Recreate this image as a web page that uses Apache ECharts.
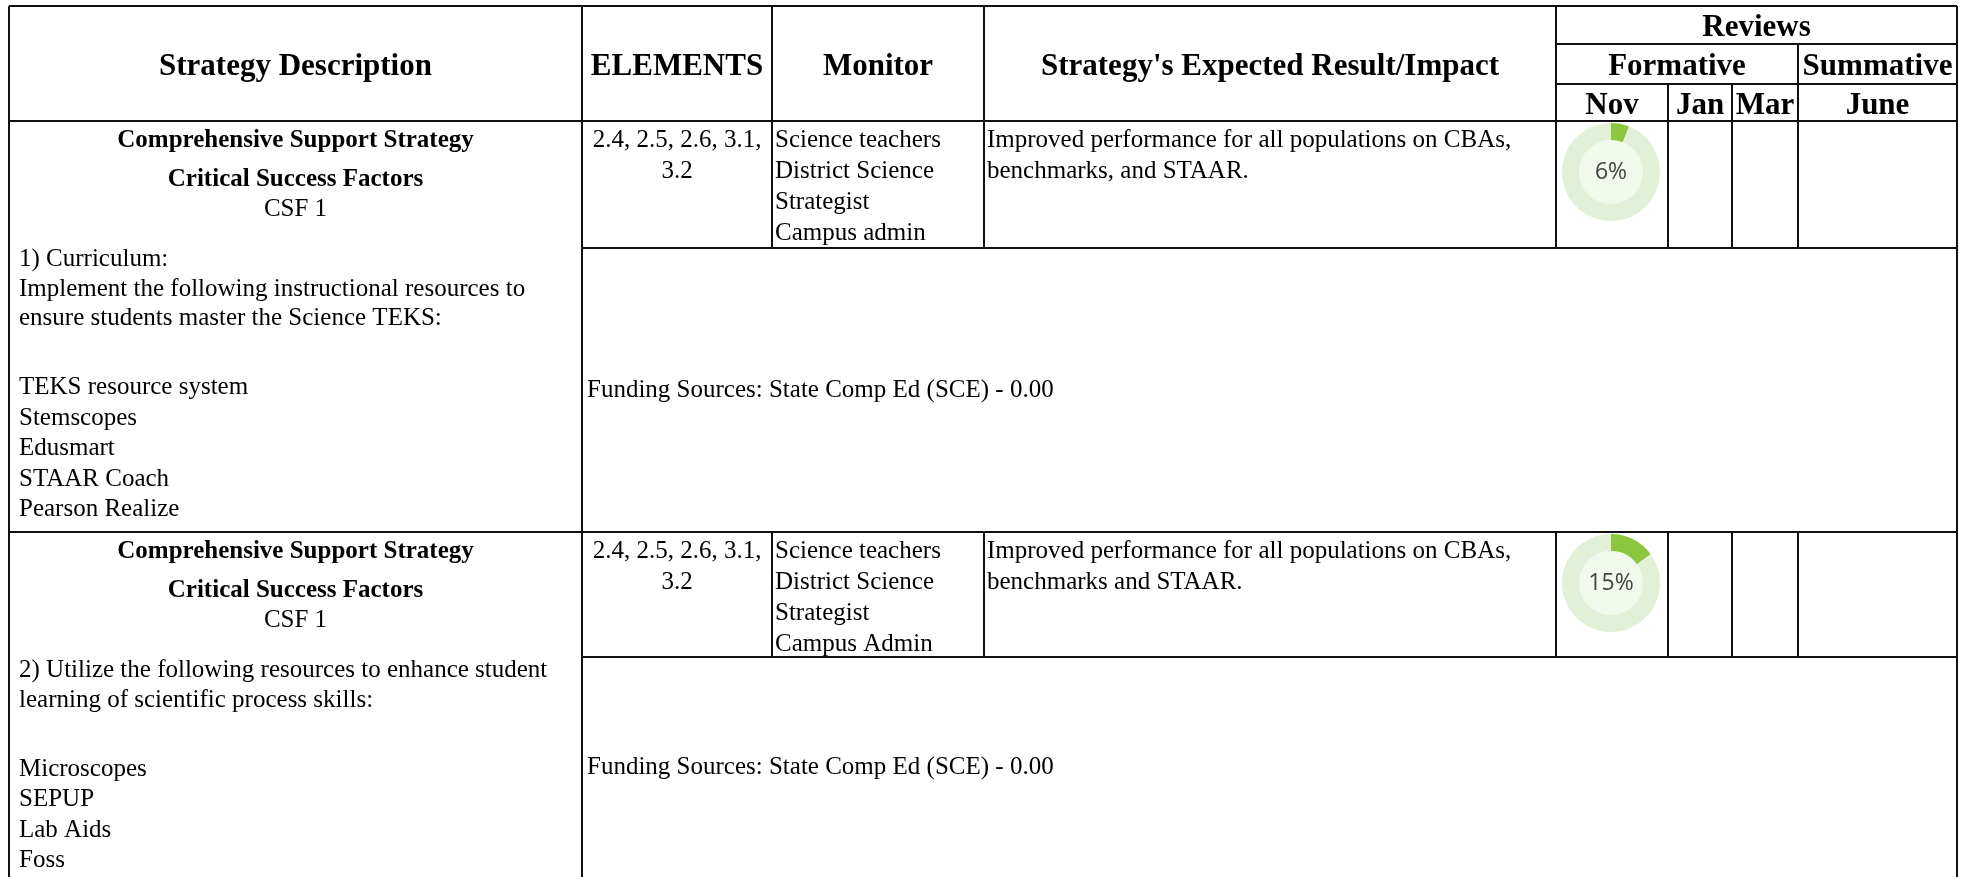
<!DOCTYPE html>
<html>
<head>
<meta charset="utf-8">
<script src="https://cdn.jsdelivr.net/npm/echarts@6/dist/echarts.min.js"></script>
<style>
html,body{margin:0;padding:0;background:#fff;}
#chart{width:1971px;height:877px;}
</style>
</head>
<body>
<div id="chart"></div>
<script>
// ---------- data ----------
const headers = ["Strategy Description", "ELEMENTS", "Monitor", "Strategy's Expected Result/Impact"];
const reviewTitle = "Reviews";
const reviewGroups = ["Formative", "Summative"];
const months = ["Nov", "Jan", "Mar", "June"];
const strategyTitles = ["Comprehensive Support Strategy", "Comprehensive Support Strategy"];
const csfTitles = ["Critical Success Factors", "Critical Success Factors"];
const csfLabels = ["CSF 1", "CSF 1"];
const descIntro = [
  ["1) Curriculum:", "Implement the following instructional resources to", "ensure students master the Science TEKS:"],
  ["2) Utilize the following resources to enhance student", "learning of scientific process skills:"]
];
const descItems = [
  ["TEKS resource system", "Stemscopes", "Edusmart", "STAAR Coach", "Pearson Realize"],
  ["Microscopes", "SEPUP", "Lab Aids", "Foss"]
];
const elementsText = [["2.4, 2.5, 2.6, 3.1,", "3.2"], ["2.4, 2.5, 2.6, 3.1,", "3.2"]];
const monitors = [
  ["Science teachers", "District Science", "Strategist", "Campus admin"],
  ["Science teachers", "District Science", "Strategist", "Campus Admin"]
];
const impacts = [
  ["Improved performance for all populations on CBAs,", "benchmarks, and STAAR."],
  ["Improved performance for all populations on CBAs,", "benchmarks and STAAR."]
];
const funding = ["Funding Sources: State Comp Ed (SCE) - 0.00", "Funding Sources: State Comp Ed (SCE) - 0.00"];
const novProgress = [6, 15];

// ---------- layout ----------
const X = {L: 9, c1: 582, c2: 772, c3: 984, c4: 1556, nov: 1668, jan: 1732, mar: 1798, R: 1957};
const Y = {T: 6, h1: 44, h2: 84, H: 121, B: 877};
const rows = [{top: 121, mid: 248, bottom: 532}, {top: 532, mid: 657, bottom: 877}];
const SERIF = '"Liberation Serif", "Times New Roman", serif';
const HFONT = 'bold 31px ' + SERIF;
const BFONT = 'bold 25px ' + SERIF;
const RFONT = '25px ' + SERIF;
const LINE = '#111';
const DY = 2.5; // baseline nudge for vertically centred text

const g = [];
function line(x1, y1, x2, y2) {
  g.push({type: 'line', silent: true, shape: {x1, y1, x2, y2}, style: {stroke: LINE, lineWidth: 2}});
}
function text(t, x, y, font, align) {
  g.push({type: 'text', silent: true, x: x, y: y + DY,
    style: {text: t, font: font, fill: '#000', textAlign: align || 'left', textVerticalAlign: 'middle',
      align: align || 'left', verticalAlign: 'middle'}});
}

// outer + header lines
line(X.L, Y.T, X.R, Y.T);
line(X.c4, Y.h1, X.R, Y.h1);
line(X.c4, Y.h2, X.R, Y.h2);
line(X.L, Y.H, X.R, Y.H);
line(X.L, Y.T, X.L, Y.B);
line(X.c1, Y.T, X.c1, Y.B);
line(X.R, Y.T, X.R, Y.B);
[X.c2, X.c3, X.c4].forEach(x => line(x, Y.T, x, Y.H));
[X.nov, X.jan].forEach(x => line(x, Y.h2, x, Y.H));
line(X.mar, Y.h1, X.mar, Y.H);

// header texts
const colL = [X.L, X.c1, X.c2, X.c3, X.c4];
headers.forEach((h, i) => text(h, (colL[i] + colL[i + 1]) / 2, 64, HFONT, 'center'));
text(reviewTitle, (X.c4 + X.R) / 2, 25, HFONT, 'center');
text(reviewGroups[0], (X.c4 + X.mar) / 2, 64, HFONT, 'center');
text(reviewGroups[1], (X.mar + X.R) / 2, 64, HFONT, 'center');
const mb = [X.c4, X.nov, X.jan, X.mar, X.R];
months.forEach((m, i) => text(m, (mb[i] + mb[i + 1]) / 2, 103, HFONT, 'center'));

// body rows
const pieSeries = [];
rows.forEach((r, k) => {
  if (k > 0) line(X.L, r.top, X.R, r.top);
  line(X.c1, r.mid, X.R, r.mid);
  [X.c2, X.c3, X.c4, X.nov, X.jan, X.mar].forEach(x => line(x, r.top, x, r.mid));

  const cx = (X.L + X.c1) / 2;
  text(strategyTitles[k], cx, r.top + 17, BFONT, 'center');
  text(csfTitles[k], cx, r.top + 56, BFONT, 'center');
  text(csfLabels[k], cx, r.top + 86, RFONT, 'center');
  let y = r.top + 136;
  descIntro[k].forEach(t => { text(t, 19, y, RFONT); y += 29.5; });
  y += 39.5;
  descItems[k].forEach(t => { text(t, 19, y, RFONT); y += 30.6; });

  elementsText[k].forEach((t, i) => text(t, (X.c1 + X.c2) / 2, r.top + 17 + i * 30.5, RFONT, 'center'));
  monitors[k].forEach((t, i) => text(t, X.c2 + 3, r.top + 17 + i * 31, RFONT));
  impacts[k].forEach((t, i) => text(t, X.c3 + 3, r.top + 17 + i * 30.5, RFONT));
  text(funding[k], X.c1 + 5, (r.mid + r.bottom) / 2 - 2, RFONT);

  const center = [(X.c4 + X.nov) / 2 - 1, r.top + 51];
  pieSeries.push({
    type: 'pie', silent: true, center: center, radius: [0, 32],
    label: {show: false}, labelLine: {show: false},
    data: [{value: 1, itemStyle: {color: '#f1f8ec'}}]
  });
  pieSeries.push({
    type: 'pie', silent: true, center: center, radius: [32, 49],
    startAngle: 90, clockwise: true,
    labelLine: {show: false},
    data: [
      {value: novProgress[k], itemStyle: {color: '#8cc63f'},
        label: {show: true, position: 'center', formatter: '{c}%',
          fontFamily: '"Open Sans", sans-serif', fontSize: 23, color: '#444'}},
      {value: 100 - novProgress[k], itemStyle: {color: '#e2f0d8'}, label: {show: false}}
    ]
  });
});

const chart = echarts.init(document.getElementById('chart'), null, {renderer: 'canvas'});
chart.setOption({
  animation: false,
  backgroundColor: '#fff',
  graphic: {elements: g},
  series: pieSeries
});
</script>
</body>
</html>
